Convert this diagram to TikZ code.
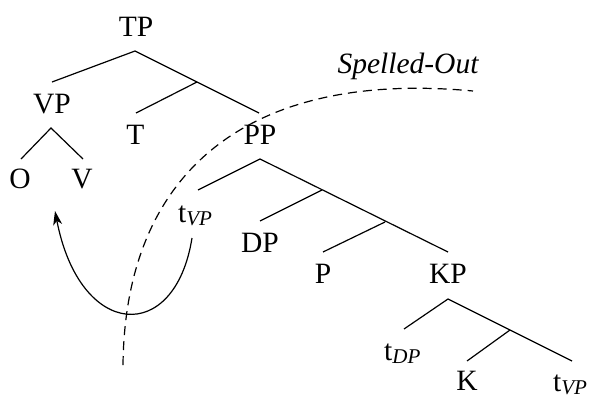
\documentclass[tikz,border=0pt]{standalone}
\usepackage{fontspec}
\setmainfont{Liberation Serif}
\usetikzlibrary{arrows.meta}
\begin{document}
\begin{tikzpicture}[x=1pt,y=-1pt,
  lab/.style={anchor=base,inner sep=0pt,font=\fontsize{29.5}{34}\selectfont},
  branch/.style={line width=1.2pt},
  spell/.style={line width=1.2pt,dash pattern=on 9pt off 6pt},
  move/.style={line width=1.2pt,-{Stealth[length=14pt,width=9pt,inset=4pt]}}]
\useasboundingbox (0,0) rectangle (591,394);
\newcommand{\sbs}[1]{\raisebox{-3pt}{\fontsize{21}{21}\selectfont\itshape #1}}
% labels
\node[lab] (TP) at (136,36) {TP};
\node[lab] (VP) at (52,113) {VP};
\node[lab] (T) at (135.5,144) {T};
\node[lab] (PP) at (260,144) {PP};
\node[lab] (O) at (20,188) {O};
\node[lab] (V) at (82,188) {V};
\node[lab,anchor=base west] (tvp1) at (178,222) {t\sbs{VP}};
\node[lab] (DP) at (260,252) {DP};
\node[lab] (P) at (323,283) {P};
\node[lab] (KP) at (448,283) {KP};
\node[lab,anchor=base west] (tdp) at (384,360) {t\sbs{DP}};
\node[lab] (K) at (467,390) {K};
\node[lab,anchor=base west] (tvp2) at (553,391) {t\sbs{VP}};
\node[lab,font=\fontsize{29.5}{34}\selectfont\itshape] (so) at (408,73) {Spelled-Out};
% tree points
\coordinate (aTP) at (135,51);
\coordinate (eVP) at (52,82);
\coordinate (jT) at (197,82);
\coordinate (eT) at (136,113);
\coordinate (ePP) at (259,113);
\coordinate (aVP) at (51,128);
\coordinate (eO) at (21,159);
\coordinate (eV) at (83,159);
\coordinate (aPP) at (260,159);
\coordinate (etvp1) at (198,190);
\coordinate (jDP) at (322,190);
\coordinate (eDP) at (260,221);
\coordinate (jP) at (385,222);
\coordinate (eP) at (323,252);
\coordinate (eKP) at (448,252);
\coordinate (aKP) at (448,299);
\coordinate (etdp) at (404,329);
\coordinate (jK) at (510,330);
\coordinate (eK) at (467,361);
\coordinate (etvp2) at (572,361);
% branches
\draw[branch] (eVP) -- (aTP) -- (ePP);
\draw[branch] (jT) -- (eT);
\draw[branch] (eO) -- (aVP) -- (eV);
\draw[branch] (etvp1) -- (aPP) -- (eKP);
\draw[branch] (jDP) -- (eDP);
\draw[branch] (jP) -- (eP);
\draw[branch] (etdp) -- (aKP) -- (etvp2);
\draw[branch] (jK) -- (eK);
% spell-out boundary
\coordinate (sA) at (123,365);
\coordinate (sB) at (473,91);
\draw[spell] (sA) .. controls (125,170) and (250,70) .. (sB);
% movement arrow
\coordinate (mA) at (192,238);
\coordinate (mB) at (55,211);
\draw[move] (mA) .. controls (175,345) and (80,340) .. (mB);
\end{tikzpicture}
\end{document}
